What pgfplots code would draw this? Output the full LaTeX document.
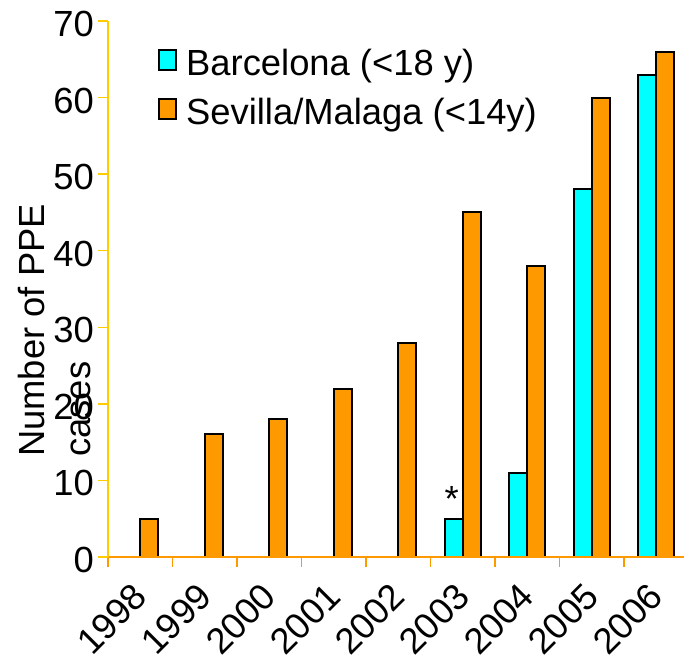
\documentclass[border=0pt]{standalone}
\usepackage{fontspec}
\setmainfont{Liberation Sans}
\usepackage{pgfplots}
\pgfplotsset{compat=1.18}
\definecolor{cyanbar}{RGB}{0,255,255}
\definecolor{orangebar}{RGB}{255,153,0}
\definecolor{goldaxis}{RGB}{255,204,0}
\definecolor{orangeaxis}{RGB}{255,153,0}
\newcommand{\bigf}{\fontsize{36.5}{44}\selectfont}
\begin{document}
\begin{tikzpicture}
\begin{axis}[
  at={(0,0)}, anchor=south west,
  scale only axis, width=576bp, height=536bp,
  xmin=-0.5, xmax=8.43, ymin=0, ymax=70,
  ybar=0pt, bar width=18bp,
  axis x line*=bottom, axis y line*=left,
  axis on top,
  x axis line style={draw=orangeaxis, line width=1.5bp},
  y axis line style={draw=goldaxis, line width=1.5bp},
  xtick={-0.5,0.5,...,7.5}, xticklabels={},
  x tick style={draw=orangeaxis, line width=1.5bp},
  extra x ticks={0,1,2,3,4,5,6,7,8},
  extra x tick labels={1998,1999,2000,2001,2002,2003,2004,2005,2006},
  extra x tick style={major tick length=0pt},
  xticklabel style={font=\bigf, xshift=-9bp, yshift=-2bp, rotate=45, anchor=north east, inner sep=0pt},
  xticklabel shift=22bp,
  ytick={0,10,...,70},
  y tick style={draw=goldaxis, line width=1.5bp},
  yticklabel style={font=\bigf, inner sep=4bp, yshift=-3bp},
  /pgf/number format/assume math mode=true,
  tick align=outside,
  major tick length=10bp,
  legend image code/.code={\draw[#1, draw=black, line width=2bp] (0bp,-7bp) rectangle (17bp,13bp);},
  legend style={at={(0.0868,0.9478)}, anchor=north west, draw=none, fill=none,
    font=\bigf, inner sep=0pt, row sep=21bp, column sep=9bp,
    nodes={inner sep=0pt}},
  legend cell align=left,
]
\addplot[fill=cyanbar, draw=black, line width=2bp] coordinates {(5,5) (6,11) (7,48) (8,63)};
\addplot[fill=orangebar, draw=black, line width=2bp] coordinates {(0,5) (1,16) (2,18) (3,22) (4,28) (5,45) (6,38) (7,60) (8,66)};
\legend{Barcelona (<18 y), Sevilla/Malaga (<14y)}
\node[font=\bigf, anchor=base, inner sep=0pt] at (axis cs:4.83,6.0) {*};
\end{axis}
\node[font=\bigf, rotate=90, anchor=base west, inner sep=0pt] at (-63bp,100bp) {Number of PPE};
\node[font=\bigf, rotate=90, anchor=base west, inner sep=0pt] at (-18bp,100bp) {cases};
\pgfresetboundingbox
\useasboundingbox (-108bp,-105bp) rectangle (576bp,557bp);
\end{tikzpicture}
\end{document}
